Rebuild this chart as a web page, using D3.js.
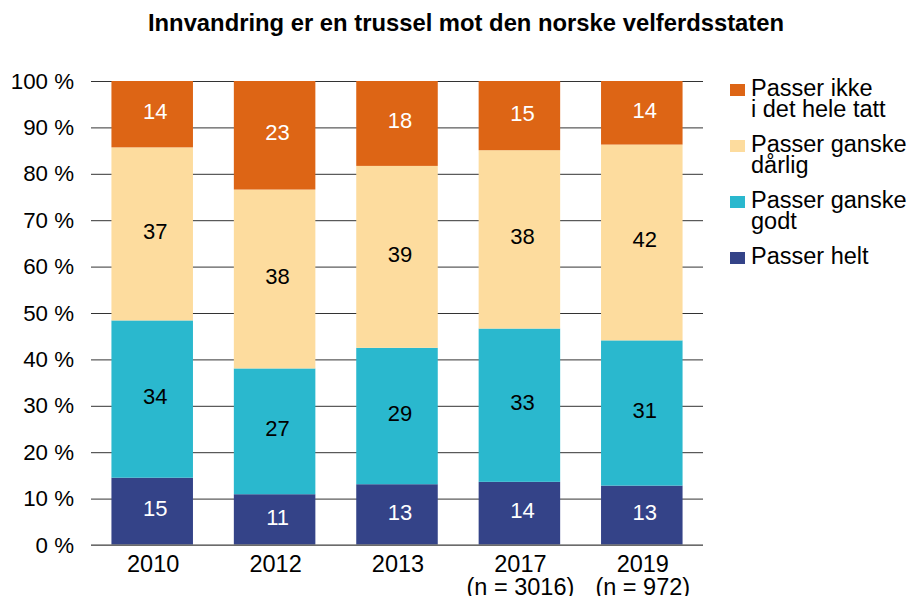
<!DOCTYPE html>
<html>
<head>
<meta charset="utf-8">
<style>
  body { margin: 0; background: #fff; }
  svg text { font-family: "Liberation Sans", Arial, sans-serif; }
</style>
</head>
<body>
<svg width="912" height="596"></svg>
<script src="https://d3js.org/d3.v7.min.js"></script>
<script>

var years = ["2010", "2012", "2013", "2017", "2019"];
var nLabels = ["", "", "", "(n = 3016)", "(n = 972)"];

// percent per answer, bottom to top
var helt = [14.5, 10.9, 13.1, 13.6, 12.8];
var godt = [33.9, 27.0, 29.4, 33.0, 31.3];
var darlig = [37.3, 38.4, 39.2, 38.4, 42.2];
var ikke = [14.3, 23.3, 18.3, 14.9, 13.7];

var keys = ["helt", "godt", "darlig", "ikke"];
var legendNames = {
  ikke: ["Passer ikke", "i det hele tatt"],
  darlig: ["Passer ganske", "dårlig"],
  godt: ["Passer ganske", "godt"],
  helt: ["Passer helt"]
};
var colors = { helt: "#344388", godt: "#2ab8ce", darlig: "#fddc9e", ikke: "#dd6515" };
var labelColors = { helt: "#fff", godt: "#000", darlig: "#000", ikke: "#fff" };

var yTicks = [0, 0.1, 0.2, 0.3, 0.4, 0.5, 0.6, 0.7, 0.8, 0.9, 1];

var svg = d3.select("svg");
var plotL = 91, plotR = 703, plotT = 81, plotB = 545;

// build rows for the stack
var rows = years.map((y, i) => {
  return { year: y, helt: helt[i], godt: godt[i], darlig: darlig[i], ikke: ikke[i] };
});
var series = d3.stack().keys(keys).offset(d3.stackOffsetExpand)(rows);

var x = d3.scaleBand().domain(years).range([plotL, plotR]).paddingInner(0.334).paddingOuter(0.167);
var y = d3.scaleLinear().domain([0, 1]).range([plotB, plotT]);

svg.append("text")
    .attr("x", 466).attr("y", 31)
    .attr("text-anchor", "middle")
    .style("font-size", "23.8px").style("font-weight", "bold")
    .text("Innvandring er en trussel mot den norske velferdsstaten");

// gridlines + tick labels
var yAxis = svg.append("g")
    .attr("transform", "translate(" + plotL + ",0)")
    .call(d3.axisLeft(y).tickValues(yTicks).tickSize(-(plotR - plotL)).tickPadding(17)
      .tickFormat((d) => { return Math.round(d * 100) + " %"; }));
yAxis.select(".domain").remove();
yAxis.selectAll(".tick line").attr("stroke", "#333").attr("stroke-width", 1);
yAxis.selectAll(".tick text")
    .style("font-size", "22.3px").attr("fill", "#000")
    .attr("font-family", "Liberation Sans, Arial, sans-serif");

// bars
var layer = svg.append("g").selectAll("g")
  .data(series)
  .enter().append("g")
    .attr("fill", (d) => { return colors[d.key]; });

layer.selectAll("rect")
  .data((d) => { return d; })
  .enter().append("rect")
    .attr("x", (d) => { return x(d.data.year); })
    .attr("y", (d) => { return y(d[1]); })
    .attr("width", x.bandwidth())
    .attr("height", (d) => { return y(d[0]) - y(d[1]); });

// value labels
series.forEach((s) => {
  svg.append("g").selectAll("text")
    .data(s)
    .enter().append("text")
      .attr("x", (d) => { return x(d.data.year) + x.bandwidth() / 2 + 3; })
      .attr("y", (d) => { return (y(d[0]) + y(d[1])) / 2 - 3; })
      .attr("dy", "0.36em")
      .attr("text-anchor", "middle")
      .attr("fill", labelColors[s.key])
      .style("font-size", "22px")
      .text((d) => { return Math.round(d.data[s.key]); });
});

// baseline
svg.append("line")
    .attr("x1", plotL).attr("x2", plotR)
    .attr("y1", plotB).attr("y2", plotB)
    .attr("stroke", "#7f7f7f").attr("stroke-width", 1.5);

// x labels
var xl = svg.append("g").selectAll("text")
  .data(years)
  .enter().append("text")
    .attr("x", (d) => { return x(d) + x.bandwidth() / 2 + 1; })
    .attr("y", 572)
    .attr("text-anchor", "middle")
    .style("font-size", "23.5px");
xl.append("tspan").text((d) => { return d; });
xl.append("tspan")
    .attr("x", (d) => { return x(d) + x.bandwidth() / 2 + 1; })
    .attr("dy", 22.5)
    .text((d, i) => { return nLabels[i]; });

// legend
var legendOrder = ["ikke", "darlig", "godt", "helt"];
var lg = svg.append("g").selectAll("g")
  .data(legendOrder)
  .enter().append("g")
    .attr("transform", (d, i) => { return "translate(730," + (84 + i * 56) + ")"; });
lg.append("rect")
    .attr("width", 15).attr("height", 12)
    .attr("fill", (d) => { return colors[d]; });
var lt = lg.append("text")
    .attr("x", 22).attr("y", 12)
    .style("font-size", "23.5px");
lt.selectAll("tspan")
  .data((d) => { return legendNames[d]; })
  .enter().append("tspan")
    .attr("x", 21)
    .attr("dy", (d, i) => { return i ? 20.5 : 0; })
    .text((d) => { return d; });

</script>
</body>
</html>
